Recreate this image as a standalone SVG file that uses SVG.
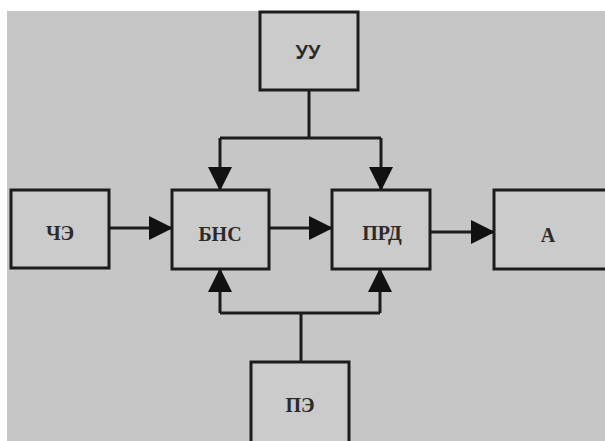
<svg xmlns="http://www.w3.org/2000/svg" width="605" height="441" viewBox="0 0 605 441">
<style>
.box{fill:#cbcbcb;stroke:#1c1c1c;stroke-width:3}
.lbl{font-family:"Liberation Serif","DejaVu Serif",serif;font-weight:bold;font-size:20px;fill:#2a2a2a;text-anchor:middle;dominant-baseline:central}
.line{fill:none;stroke:#1c1c1c;stroke-width:3}
</style>
<defs>
<marker id="ah" markerUnits="userSpaceOnUse" markerWidth="24" markerHeight="24" refX="23" refY="12" orient="auto" viewBox="0 0 24 24">
<path d="M0,0 L24,12 L0,24 z" fill="#111"/>
</marker>
</defs>
<rect x="0" y="0" width="605" height="441" fill="#ffffff"/>
<rect x="7" y="11" width="598" height="430" fill="#c6c6c6"/>
<g id="connectors">
<path class="line" d="M309,90 V138 M220,138 H381"/>
<path class="line" d="M220,138 V190" marker-end="url(#ah)"/>
<path class="line" d="M381,138 V190" marker-end="url(#ah)"/>
<path class="line" d="M109,228 H172" marker-end="url(#ah)"/>
<path class="line" d="M269,228 H332" marker-end="url(#ah)"/>
<path class="line" d="M430,232 H494" marker-end="url(#ah)"/>
<path class="line" d="M301,362 V313 M220,313 H380"/>
<path class="line" d="M220,313 V269" marker-end="url(#ah)"/>
<path class="line" d="M380,313 V269" marker-end="url(#ah)"/>
</g>
<g id="UU"><rect class="box" x="260" y="12" width="98" height="78"/><text class="lbl" x="308" y="52" style="font-family:'Liberation Sans',Arial,sans-serif">УУ</text></g>
<g id="CHE"><rect class="box" x="11" y="190" width="98" height="78"/><text class="lbl" x="60" y="233">ЧЭ</text></g>
<g id="BNS"><rect class="box" x="172" y="190" width="97" height="79"/><text class="lbl" x="220" y="234">БНС</text></g>
<g id="PRD"><rect class="box" x="332" y="190" width="98" height="79"/><text class="lbl" x="382" y="233">ПРД</text></g>
<g id="A"><rect class="box" x="494" y="190" width="115" height="79"/><text class="lbl" x="548" y="235">А</text></g>
<g id="PE"><rect class="box" x="251" y="362" width="98" height="85"/><text class="lbl" x="300" y="405">ПЭ</text></g>
</svg>
